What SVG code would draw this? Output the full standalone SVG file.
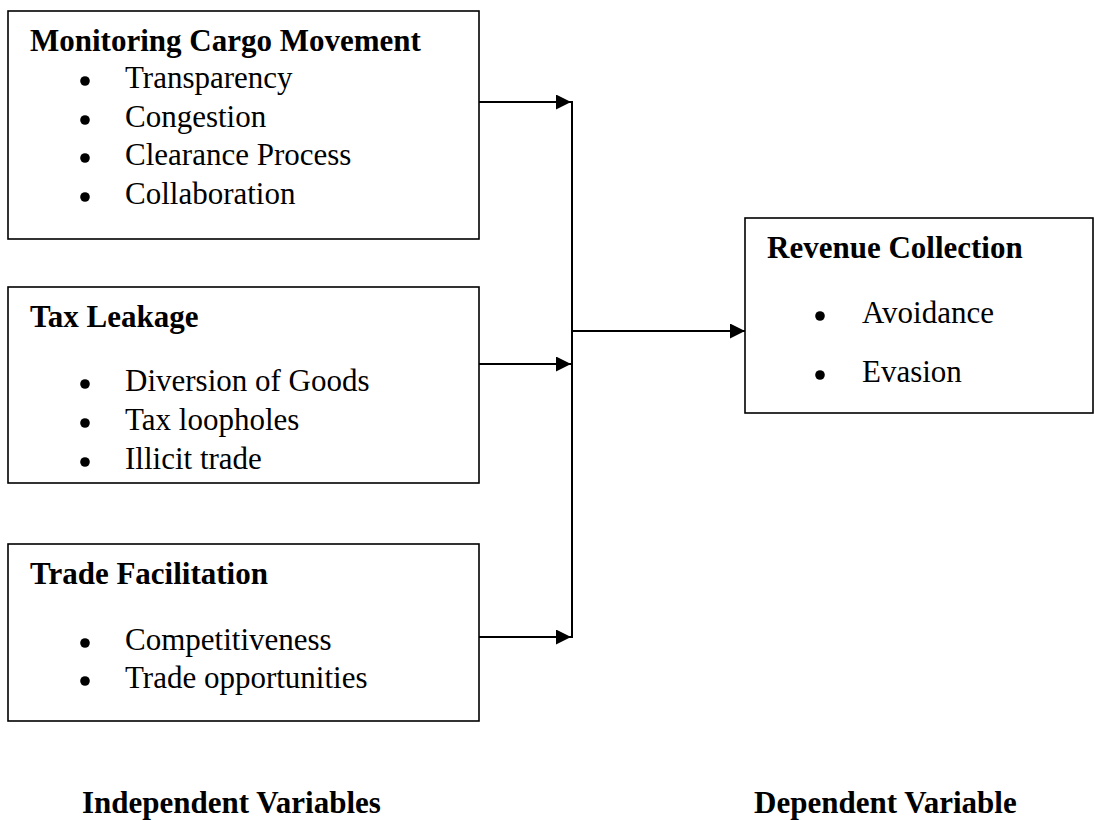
<svg xmlns="http://www.w3.org/2000/svg" width="1094" height="820" viewBox="0 0 1094 820">
<style>
.box{fill:#fff;stroke:#000;stroke-width:1.6}
.t{font-family:"Liberation Serif","Times New Roman",serif;font-size:31px;fill:#000}
.b{font-weight:bold}
.dot{fill:#000}
.c{stroke:#000;stroke-width:2;fill:none}
</style>
<defs>
<marker id="ah" markerUnits="userSpaceOnUse" markerWidth="16" markerHeight="16" refX="15" refY="7.5" orient="auto">
<polygon points="0,0 15,7.5 0,15" fill="#000"/>
</marker>
</defs>
<rect width="1094" height="820" fill="#fff"/>
<g id="node-monitoring">
<rect class="box" x="8" y="11" width="471" height="228"/>
<text class="t b" x="30" y="51">Monitoring Cargo Movement</text>
<circle class="dot" cx="85" cy="81" r="4.8"/><text class="t" x="125" y="88">Transparency</text>
<circle class="dot" cx="85" cy="120" r="4.8"/><text class="t" x="125" y="127">Congestion</text>
<circle class="dot" cx="85" cy="158" r="4.8"/><text class="t" x="125" y="165">Clearance Process</text>
<circle class="dot" cx="85" cy="197" r="4.8"/><text class="t" x="125" y="204">Collaboration</text>
</g>
<g id="node-tax">
<rect class="box" x="8" y="287" width="471" height="196"/>
<text class="t b" x="30" y="327">Tax Leakage</text>
<circle class="dot" cx="85" cy="384" r="4.8"/><text class="t" x="125" y="391">Diversion of Goods</text>
<circle class="dot" cx="85" cy="423" r="4.8"/><text class="t" x="125" y="430">Tax loopholes</text>
<circle class="dot" cx="85" cy="462" r="4.8"/><text class="t" x="125" y="469">Illicit trade</text>
</g>
<g id="node-trade">
<rect class="box" x="8" y="544" width="471" height="177"/>
<text class="t b" x="30" y="584">Trade Facilitation</text>
<circle class="dot" cx="85" cy="643" r="4.8"/><text class="t" x="125" y="650">Competitiveness</text>
<circle class="dot" cx="85" cy="681" r="4.8"/><text class="t" x="125" y="688">Trade opportunities</text>
</g>
<g id="node-revenue">
<rect class="box" x="745" y="218" width="348" height="195"/>
<text class="t b" x="767" y="258">Revenue Collection</text>
<circle class="dot" cx="820" cy="316" r="4.8"/><text class="t" x="862" y="323">Avoidance</text>
<circle class="dot" cx="820" cy="375" r="4.8"/><text class="t" x="862" y="382">Evasion</text>
</g>
<g id="connectors">
<line class="c" x1="479" y1="102" x2="571" y2="102" marker-end="url(#ah)"/>
<line class="c" x1="479" y1="364" x2="571" y2="364" marker-end="url(#ah)"/>
<line class="c" x1="479" y1="637" x2="571" y2="637" marker-end="url(#ah)"/>
<line class="c" x1="572" y1="101" x2="572" y2="638"/>
<line class="c" x1="572" y1="331" x2="745" y2="331" marker-end="url(#ah)"/>
</g>
<g id="labels">
<text class="t b" x="82" y="813">Independent Variables</text>
<text class="t b" x="754" y="813">Dependent Variable</text>
</g>
</svg>
